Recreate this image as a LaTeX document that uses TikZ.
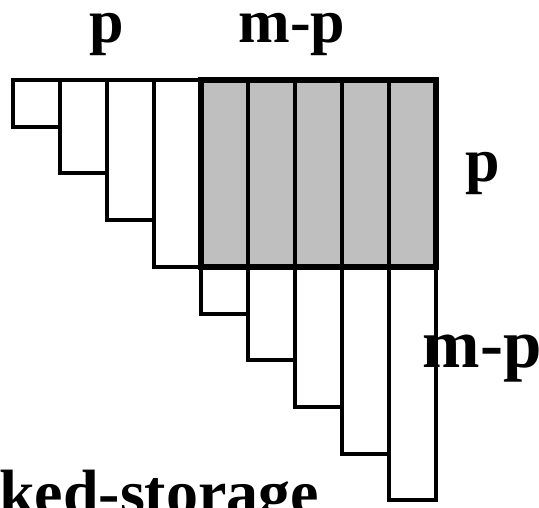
\documentclass[tikz,border=0pt]{standalone}
\usepackage{fontspec}
\setmainfont{Liberation Serif}
\begin{document}
\begin{tikzpicture}[x=1pt,y=-1pt,
  lbl/.style={inner sep=0pt,anchor=base,text height=0.5em,font=\bfseries\fontsize{#1}{#1}\selectfont},
  colbox/.style={draw=black,line width=4pt,line join=miter},
  blockbox/.style={draw=black,line width=6.5pt,line join=miter}]
\useasboundingbox (0,0) rectangle (539,507);
% labels (drawn first so the column edges pass over them)
\node[lbl=62] (ptop) at (107,42) {p};
\node[lbl=62] (mptop) at (292,42) {m-p};
\node[lbl=62] (pright) at (483,181) {p};
\node[lbl=69] (mpright) at (482,367) {m-p};
\node[lbl=64,anchor=base west] (caption) at (-1,514) {ked-storage};
% shaded off-diagonal block
\fill[gray!50] (201,80) rectangle (436,266.8);
% packed columns of growing height
\foreach \i in {0,...,8}{
  \pgfmathsetmacro{\xa}{13+47*\i}
  \pgfmathsetmacro{\xb}{13+47*(\i+1)}
  \pgfmathsetmacro{\yb}{80+46.7*(\i+1)}
  \draw[colbox] (\xa,80) rectangle (\xb,\yb);
}
\draw[blockbox] (201,80) rectangle (436,266.8);
\end{tikzpicture}
\end{document}
